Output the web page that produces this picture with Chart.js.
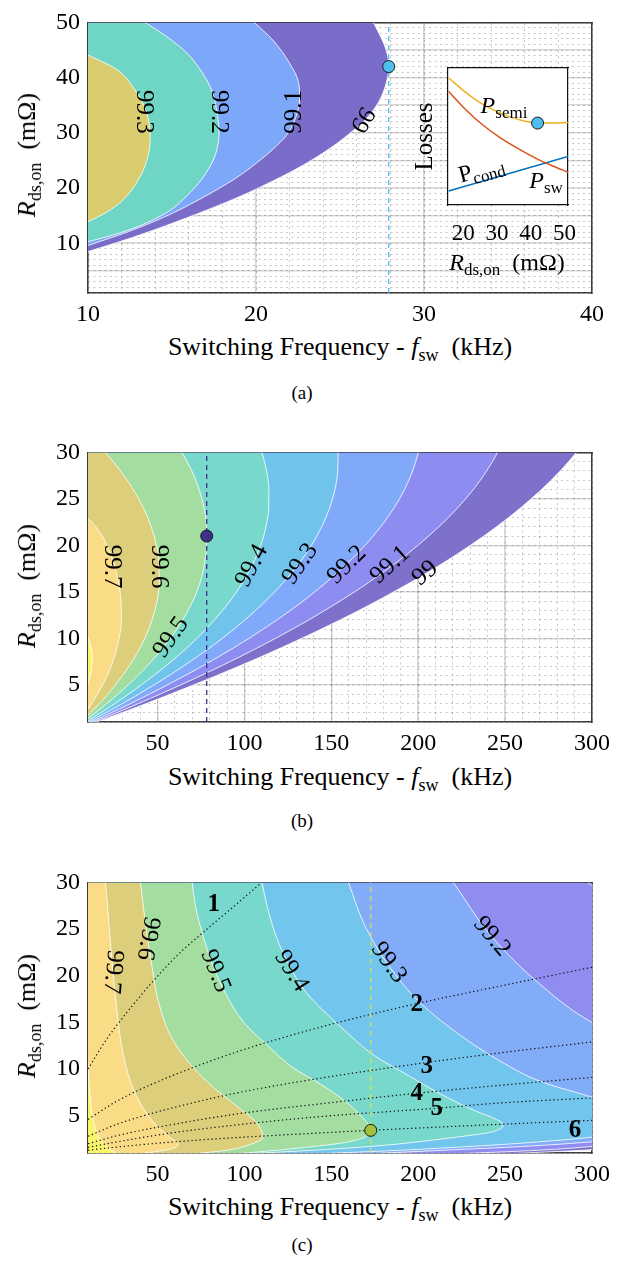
<!DOCTYPE html>
<html>
<head>
<meta charset="utf-8">
<script src="https://cdn.jsdelivr.net/npm/chart.js@4.4.1/dist/chart.umd.min.js"></script>
<style>
html,body{margin:0;padding:0;background:#fff}
body{position:relative;width:622px;height:1263px;overflow:hidden;font-family:"Liberation Serif","Times New Roman",serif;color:#000}
canvas{position:absolute;left:0}
.t{position:absolute;white-space:nowrap;font-size:26px;line-height:1;transform:translate(-50%,-50%);z-index:5}
.r{transform:translate(-50%,-50%) rotate(-90deg)}
.t sub{font-size:18px;line-height:0;position:relative;top:6px;vertical-align:baseline}
.s{font-size:24px}
.s sub{font-size:17px;top:5px}
.cap{font-size:19px}
</style>
</head>
<body>
<canvas id="ca" width="622" height="330" style="top:0px"></canvas>
<canvas id="ins" width="195" height="190" style="left:400px;top:55px"></canvas>
<canvas id="cb" width="622" height="330" style="top:430px"></canvas>
<canvas id="cc" width="622" height="330" style="top:860px"></canvas>

<div class="t r" style="left:27px;top:155px"><i>R</i><sub>ds,on</sub>&nbsp;&nbsp;(mΩ)</div>
<div class="t" style="left:340px;top:347px">Switching Frequency - <i>f</i><sub>sw</sub>&nbsp;&nbsp;(kHz)</div>
<div class="t cap" style="left:302px;top:392px">(a)</div>

<div class="t s" style="left:504px;top:105px"><i>P</i><sub>semi</sub></div>
<div class="t s" style="left:481px;top:169px;transform:translate(-50%,-50%) rotate(-15deg)">P<sub>cond</sub></div>
<div class="t s" style="left:546px;top:180px"><i>P</i><sub>sw</sub></div>
<div class="t s" style="left:507px;top:262px"><i>R</i><sub>ds,on</sub>&nbsp;&nbsp;(mΩ)</div>

<div class="t r" style="left:27px;top:586px"><i>R</i><sub>ds,on</sub>&nbsp;&nbsp;(mΩ)</div>
<div class="t" style="left:340px;top:777px">Switching Frequency - <i>f</i><sub>sw</sub>&nbsp;&nbsp;(kHz)</div>
<div class="t cap" style="left:302px;top:820px">(b)</div>

<div class="t r" style="left:27px;top:1016px"><i>R</i><sub>ds,on</sub>&nbsp;&nbsp;(mΩ)</div>
<div class="t" style="left:340px;top:1207px">Switching Frequency - <i>f</i><sub>sw</sub>&nbsp;&nbsp;(kHz)</div>
<div class="t cap" style="left:302px;top:1244px">(c)</div>

<script>
const FONT = '"Liberation Serif","Times New Roman",serif';
Chart.defaults.font.family = FONT;
Chart.defaults.color = '#000';

// ---------------- Panel (a) data ----------------
const aXTicks = [10, 20, 30, 40];
const aYGrid = [5, 10, 15, 20, 25, 30, 35, 40, 45, 50];
const aYLabels = [10, 20, 30, 40, 50];
const aR993 = [13.9, 15.6, 17.9, 21.5, 25.0, 28.5, 31.5, 34.4, 38.2, 41.5, 44.1];
const aF993 = [10.0, 11.1, 12.1, 13.0, 13.5, 13.7, 13.65, 13.4, 12.7, 11.7, 10.0];
const aR992 = [10.3, 11.5, 13.2, 15.6, 19.1, 22.6, 26.2, 30.3, 33.2, 37.4, 40.9, 44.4, 47.4, 50.0];
const aF992 = [10.0, 11.5, 13.1, 14.7, 16.05, 17.0, 17.6, 17.8, 17.7, 17.4, 16.8, 15.9, 14.7, 13.4];
const aR991 = [9.6, 12.1, 14.7, 17.9, 21.8, 24.7, 27.0, 29.5, 32.6, 36.2, 39.5, 42.6, 46.8, 50.0];
const aF991 = [10.0, 12.4, 14.5, 16.6, 18.8, 20.1, 21.0, 21.8, 22.35, 22.6, 22.5, 22.0, 21.0, 19.9];
const aR990 = [8.5, 10.9, 14.4, 17.4, 19.8, 23.8, 27.4, 29.7, 32.7, 35.6, 39.0, 42.0, 45.0, 50.0];
const aF990 = [10.0, 12.5, 15.7, 18.2, 20.0, 22.6, 24.5, 25.5, 26.6, 27.3, 27.75, 27.9, 27.75, 27.0];
const aOptF = 27.9, aOptR = 42;

// inset
const insTicks = [20, 30, 40, 50];
const insR = [15.7, 21, 26, 31, 36, 42, 46.5, 51];
const insSemi = [0.927, 0.817, 0.732, 0.671, 0.627, 0.598, 0.598, 0.602];
const insSw = [0.829, 0.69, 0.58, 0.49, 0.415, 0.335, 0.285, 0.239];
const insCondR = [15.7, 51];
const insCond = [0.102, 0.354];
const insOptR = 42, insOptP = 0.598;

// ---------------- Panel (b) data ----------------
const bcXTicks = [50, 100, 150, 200, 250, 300];
const bcYTicks = [5, 10, 15, 20, 25, 30];
const bR = [1, 2, 3, 4, 6, 8, 10, 12, 14, 16, 18, 20, 22, 24, 26, 28, 30];
const bR998 = [4.5, 5.2, 6, 7, 8, 9, 10.1, 11];
const bF998 = [9.0, 10.0, 11.3, 12.2, 12.5, 11.8, 10.0, 8.5];
const bR997 = [1, 2, 3, 4, 6, 8, 10, 12, 14, 16, 18, 20, 22, 23];
const bF997 = [4.4, 8.5, 12.2, 15.5, 21.1, 25.2, 27.9, 29.2, 29.0, 27.6, 25.0, 21.0, 14.5, 9.5];
const bF996 = [5.9, 11.4, 16.6, 21.4, 29.9, 37.0, 42.7, 46.9, 49.7, 51.0, 50.9, 49.4, 46.4, 42.0, 36.1, 28.8, 20.1];
const bF995 = [7.4, 14.4, 21.0, 27.3, 38.8, 48.8, 57.4, 64.6, 70.3, 74.5, 77.0, 78.2, 78.2, 76.8, 74.0, 69.8, 64.1];
const bF994 = [8.9, 17.4, 25.6, 33.4, 47.9, 61.0, 72.7, 82.9, 91.7, 99.0, 104.9, 109.4, 112.4, 114.0, 114.1, 112.8, 110.1];
const bF993 = [10.4, 20.3, 30.0, 39.2, 56.7, 72.7, 87.3, 100.4, 112.1, 122.4, 131.2, 138.6, 144.5, 149.0, 152.1, 153.7, 153.9];
const bF992 = [11.9, 23.4, 34.6, 45.4, 65.9, 85.0, 102.7, 118.9, 133.7, 147.0, 158.9, 169.4, 178.4, 186.0, 192.1, 196.8, 200.1];
const bF991 = [13.4, 26.5, 39.2, 51.5, 75.1, 97.2, 117.9, 137.2, 155.0, 171.4, 186.3, 199.8, 211.9, 222.5, 231.7, 239.4, 245.7];
const bF990 = [14.9, 29.5, 43.7, 57.5, 84.1, 109.3, 133.0, 155.3, 176.1, 195.5, 213.5, 230.0, 245.1, 258.7, 270.9, 281.7, 291.0];
const bOptF = 78.3, bOptR = 21;

// ---------------- Panel (c) data ----------------
const cR998 = [0.9, 1.5, 2.2, 3.2, 4.5, 6.0, 8.0, 10.3, 11.0];
const cF998 = [27, 22, 18, 15, 13, 11.8, 10.8, 10.0, 9.6];
const cR997 = [0.9, 1.4, 1.9, 2.5, 3.9, 6.0, 8.7, 12.2, 16.0, 20.5, 25.7, 30.0];
const cF997 = [40, 57, 62, 58.4, 49.7, 41.1, 34.4, 29.6, 26.8, 24.3, 22.0, 20.1];
const cR996 = [0.9, 1.3, 1.8, 2.7, 4.2, 6.0, 8.0, 10.5, 13.6, 17.1, 20.9, 25.7, 30.0];
const cF996 = [70, 90, 101.5, 110.7, 107.2, 95.7, 82.3, 68.9, 57.4, 50.7, 46.9, 43.0, 40.2];
const cR995 = [0.9, 1.5, 2.2, 3.43, 4.8, 6.7, 8.4, 10.1, 12.6, 15.0, 17.8, 20.9, 24.0, 27.5, 30.0];
const cF995 = [95, 130, 160, 172.7, 168, 157, 143.6, 128.3, 112.9, 99.6, 90.0, 82.3, 76.6, 71.8, 69.9];
const cR994 = [0.9, 1.3, 1.6, 1.9, 2.2, 2.7, 3.2, 4.05, 4.6, 5.6, 7.35, 9.4, 11.5, 14.0, 15.7, 18.1, 20.9, 24.0, 27.5, 30.0];
const cF994 = [100, 140, 165, 185, 200, 222, 241, 249, 245, 231.7, 212.6, 193.4, 174.3, 158.5, 148.5, 136, 126.4, 118.7, 113, 110.1];
const cR993 = [0.9, 1.3, 1.7, 2.2, 2.7, 3.5, 5.0, 7.0, 8.7, 10.6, 13.9, 17.4, 21.9, 25.7, 30.0];
const cF993 = [140, 190, 230, 270, 300, 330, 335, 299.7, 270, 249.5, 222.1, 199.5, 180, 168.5, 159.9];
const cR992 = [0.9, 1.3, 1.7, 2.2, 3.0, 5.0, 10.0, 15.0, 19.1, 24.2, 30.0];
const cF992 = [170, 215, 260, 300, 340, 380, 360, 300, 270, 242.3, 220.2];
const cR991 = [0.9, 1.3, 1.7, 2.5, 5.0, 15.0, 25.0, 30.0];
const cF991 = [220, 270, 300, 350, 420, 400, 330, 297.8];
const cR990 = [0.9, 1.35, 2.0, 5.0, 30.0];
const cF990 = [250, 300, 350, 450, 420];
const cN1F = [10, 20, 28.7, 40, 49.8, 62, 78.5, 95, 110];
const cN1R = [10.0, 13.0, 15.2, 17.8, 19.9, 22.3, 25.0, 27.6, 30.0];
const cN2F = [10, 30, 60, 100, 150, 199, 250, 300];
const cN2R = [4.6, 6.9, 9.4, 12.1, 14.8, 17.0, 19.0, 20.9];
const cN3F = [10, 30, 60, 100, 150, 205, 250, 300];
const cN3R = [2.8, 4.3, 5.9, 7.6, 9.2, 10.7, 11.8, 12.9];
const cN4F = [10, 30, 60, 100, 150, 199, 250, 300];
const cN4R = [2.0, 3.0, 4.1, 5.3, 6.4, 7.4, 8.3, 9.1];
const cN5F = [10, 30, 60, 100, 150, 211, 250, 300];
const cN5R = [1.6, 2.3, 3.2, 4.1, 5.0, 5.8, 6.4, 6.9];
const cN6F = [10, 30, 60, 100, 172.7, 250, 300];
const cN6R = [1.3, 1.7, 2.2, 2.7, 3.43, 4.1, 4.5];
const cOptF = 172.7, cOptR = 3.43;

// ---------------- helpers ----------------
const pts = (fs, rs) => rs.map((r, i) => ({x: fs[i], y: r}));
const rng = (a, b, s) => { const o = []; for (let v = a; v <= b + 1e-9; v += s) o.push(+v.toFixed(6)); return o; };

function contour(fs, rs, color, xmin) {
  return {data: pts(fs, rs), fill: {value: xmin}, backgroundColor: color, borderColor: 'rgba(255,255,255,0.92)',
    borderWidth: 0.9, pointRadius: 0, cubicInterpolationMode: 'monotone', clip: 0, xAxisID: 'x', yAxisID: 'y'};
}
function vline(f, r0, r1, color) {
  return {data: [{x: f, y: r0}, {x: f, y: r1}], borderColor: color, borderWidth: 1.3, borderDash: [5, 4],
    pointRadius: 0, fill: false, clip: 0, xAxisID: 'x', yAxisID: 'y'};
}
function dotted(fs, rs) {
  return {data: pts(fs, rs), borderColor: '#111', borderWidth: 1.2, borderDash: [1.3, 2.7], pointRadius: 0,
    fill: false, cubicInterpolationMode: 'monotone', clip: 0, xAxisID: 'x', yAxisID: 'y'};
}
function dot(f, r, color) {
  return {data: [{x: f, y: r}], showLine: false, pointRadius: 6, pointBackgroundColor: color,
    pointBorderColor: '#1b1b1b', pointBorderWidth: 1, fill: false, clip: false, xAxisID: 'x', yAxisID: 'y'};
}

const labelPlugin = {
  id: 'clabels',
  afterDraw(chart, args, opts) {
    const ctx = chart.ctx, xs = chart.scales.x, ys = chart.scales.y;
    (opts.items || []).forEach(it => {
      ctx.save();
      ctx.translate(xs.getPixelForValue(it.f), ys.getPixelForValue(it.r));
      ctx.rotate((it.rot || 0) * Math.PI / 180);
      ctx.font = (it.bold ? 'bold ' : '') + '25px ' + FONT;
      ctx.fillStyle = '#000';
      ctx.textAlign = 'center';
      ctx.textBaseline = 'middle';
      ctx.fillText(it.text, 0, 0);
      ctx.restore();
    });
  }
};

function scalesFor(c) {
  const tickFont = {family: FONT, size: 24};
  const major = {color: 'rgba(0,0,0,0.16)', lineWidth: 1.6, drawTicks: false};
  const minor = {color: 'rgba(0,0,0,0.22)', lineWidth: 1, drawTicks: false};
  const brd = {display: true, color: '#3c3c3c', width: 1.5};
  return {
    x: {type: 'linear', position: 'bottom', min: c.xMin, max: c.xMax, z: 1,
      afterBuildTicks: s => { s.ticks = c.xGrid.map(v => ({value: v})); },
      afterFit: s => { s.height = c.xH; },
      ticks: {font: tickFont, color: '#000', padding: 7, autoSkip: false, maxRotation: 0,
        callback: v => c.xLabels.includes(v) ? String(v) : ''},
      grid: major, border: brd},
    x2: {type: 'linear', position: 'top', min: c.xMin, max: c.xMax, z: 1,
      afterBuildTicks: s => { s.ticks = c.xMinor.map(v => ({value: v})); },
      afterFit: s => { s.height = 0; },
      ticks: {display: false}, grid: minor, border: Object.assign({}, brd, {dash: [2, 3.5]})},
    y: {type: 'linear', position: 'left', min: c.yMin, max: c.yMax, z: 1,
      afterBuildTicks: s => { s.ticks = c.yGrid.map(v => ({value: v})); },
      afterFit: s => { s.width = 88; },
      ticks: {font: tickFont, color: '#000', padding: 8, autoSkip: false,
        callback: v => c.yLabels.includes(v) ? String(v) : ''},
      grid: major, border: brd},
    y2: {type: 'linear', position: 'right', min: c.yMin, max: c.yMax, z: 1,
      afterBuildTicks: s => { s.ticks = c.yMinor.map(v => ({value: v})); },
      afterFit: s => { s.width = 0; },
      ticks: {display: false}, grid: minor, border: Object.assign({}, brd, {dash: [2, 3.5]})}
  };
}

function makeChart(id, datasets, sc, labels, padTop) {
  return new Chart(document.getElementById(id), {
    type: 'line',
    data: {datasets},
    options: {
      indexAxis: 'y', responsive: false, animation: false,
      layout: {padding: {top: padTop, right: 30, left: 0, bottom: 0}},
      scales: scalesFor(sc),
      plugins: {legend: {display: false}, tooltip: {enabled: false}, clabels: {items: labels}}
    },
    plugins: [labelPlugin]
  });
}

// ---------------- Chart (a) ----------------
makeChart('ca', [
  dot(aOptF, aOptR, '#4DBEEE'),
  vline(aOptF, 1, 50, '#4DBEEE'),
  contour(aF993, aR993, '#DACD70', 10),
  contour(aF992, aR992, '#6FD6C6', 10),
  contour(aF991, aR991, '#7DA8FA', 10),
  contour(aF990, aR990, '#7A6CC9', 10)
], {xMin: 10, xMax: 40, yMin: 1, yMax: 50, xH: 37, xGrid: aXTicks, xLabels: aXTicks, xMinor: rng(10, 40, 2),
    yGrid: aYGrid, yLabels: aYLabels, yMinor: rng(1, 50, 1)},
  [{text: '99.3', f: 13.3, r: 33.8, rot: 90}, {text: '99.2', f: 17.8, r: 33.8, rot: 90},
   {text: '99.1', f: 22.3, r: 33.8, rot: -90}, {text: '99', f: 26.3, r: 32.4, rot: 120}], 15);

// ---------------- inset ----------------
const whiteBg = {id: 'whiteBg', beforeDraw(chart) {
  const a = chart.chartArea, ctx = chart.ctx; ctx.save(); ctx.fillStyle = '#fff';
  ctx.fillRect(a.left, a.top, a.right - a.left, a.bottom - a.top); ctx.restore(); }};
const insBrd = {display: true, color: '#111', width: 1.2};
new Chart(document.getElementById('ins'), {
  type: 'line',
  data: {datasets: [
    {data: [{x: insOptR, y: insOptP}], showLine: false, pointRadius: 6,
      pointBackgroundColor: '#4DBEEE', pointBorderColor: '#1b1b1b', pointBorderWidth: 1, clip: false},
    {data: insR.map((r, i) => ({x: r, y: insSemi[i]})), borderColor: '#EDB120', borderWidth: 1.5, pointRadius: 0, cubicInterpolationMode: 'monotone'},
    {data: insR.map((r, i) => ({x: r, y: insSw[i]})), borderColor: '#D95319', borderWidth: 1.5, pointRadius: 0, cubicInterpolationMode: 'monotone'},
    {data: insCondR.map((r, i) => ({x: r, y: insCond[i]})), borderColor: '#0072BD', borderWidth: 1.5, pointRadius: 0}
  ]},
  options: {
    responsive: false, animation: false,
    layout: {padding: {top: 13, right: 27, left: 0, bottom: 0}},
    scales: {
      x: {type: 'linear', min: 15.5, max: 51, afterBuildTicks: s => { s.ticks = insTicks.map(v => ({value: v})); },
        afterFit: s => { s.height = 40; }, ticks: {font: {family: FONT, size: 23}, padding: 7, color: '#000', autoSkip: false, maxRotation: 0},
        grid: {display: false}, border: insBrd},
      x2: {type: 'linear', position: 'top', min: 15.5, max: 51, afterFit: s => { s.height = 0; }, ticks: {display: false},
        grid: {display: false}, border: insBrd},
      y: {type: 'linear', min: 0, max: 1, afterFit: s => { s.width = 48; }, ticks: {display: false}, grid: {display: false},
        border: insBrd, title: {display: true, text: 'Losses', font: {family: FONT, size: 25}, color: '#000', padding: {top: 10, bottom: 0}}},
      y2: {type: 'linear', position: 'right', min: 0, max: 1, afterFit: s => { s.width = 0; }, ticks: {display: false},
        grid: {display: false}, border: insBrd}
    },
    plugins: {legend: {display: false}, tooltip: {enabled: false}}
  },
  plugins: [whiteBg]
});

// ---------------- Chart (b) ----------------
const bcMinorX = rng(10, 300, 10), bcMinorY = rng(1, 30, 1);
makeChart('cb', [
  dot(bOptF, bOptR, '#3E2F8A'),
  vline(bOptF, 1, 30, '#3E2F8A'),
  contour(bF998, bR998, '#F8F46C', 10),
  contour(bF997, bR997, '#FBDC86', 10),
  contour(bF996, bR, '#DCCE7B', 10),
  contour(bF995, bR, '#A3DD9F', 10),
  contour(bF994, bR, '#78D8CB', 10),
  contour(bF993, bR, '#70C4EC', 10),
  contour(bF992, bR, '#80AAF9', 10),
  contour(bF991, bR, '#8D8CF0', 10),
  contour(bF990, bR, '#7E71CB', 10)
], {xMin: 10, xMax: 300, yMin: 1, yMax: 30, xH: 38, xGrid: bcXTicks, xLabels: bcXTicks, xMinor: bcMinorX,
    yGrid: bcYTicks, yLabels: bcYTicks, yMinor: bcMinorY},
  [{text: '99.7', f: 23.5, r: 17.7, rot: 90}, {text: '99.6', f: 50.5, r: 17.7, rot: 90},
   {text: '99.5', f: 57.8, r: 10.1, rot: -55}, {text: '99.4', f: 104.3, r: 17.8, rot: -62},
   {text: '99.3', f: 132.1, r: 18.0, rot: -55}, {text: '99.2', f: 159, r: 17.9, rot: -45},
   {text: '99.1', f: 183.9, r: 17.9, rot: -42}, {text: '99', f: 204, r: 17.0, rot: -40}], 14);

// ---------------- Chart (c) ----------------
makeChart('cc', [
  dot(cOptF, cOptR, '#A2C03A'),
  vline(cOptF, 1, 30, '#D2E25A'),
  dotted(cN1F, cN1R), dotted(cN2F, cN2R), dotted(cN3F, cN3R),
  dotted(cN4F, cN4R), dotted(cN5F, cN5R), dotted(cN6F, cN6R),
  contour(cF998, cR998, '#F8F46C', 10),
  contour(cF997, cR997, '#FBDC86', 10),
  contour(cF996, cR996, '#DCCE7B', 10),
  contour(cF995, cR995, '#A3DD9F', 10),
  contour(cF994, cR994, '#78D8CB', 10),
  contour(cF993, cR993, '#72C5EC', 10),
  contour(cF992, cR992, '#82ABF8', 10),
  contour(cF991, cR991, '#8F8EF0', 10),
  contour(cF990, cR990, '#7F72CC', 10)
], {xMin: 10, xMax: 300, yMin: 1, yMax: 30, xH: 37, xGrid: bcXTicks, xLabels: bcXTicks, xMinor: bcMinorX,
    yGrid: bcYTicks, yLabels: bcYTicks, yMinor: bcMinorY},
  [{text: '99.7', f: 24.3, r: 20.4, rot: 95}, {text: '99.6', f: 44.5, r: 24.0, rot: 100},
   {text: '99.5', f: 83.3, r: 20.5, rot: 68}, {text: '99.4', f: 127, r: 20.5, rot: 58},
   {text: '99.3', f: 183, r: 21.4, rot: 55}, {text: '99.2', f: 242.3, r: 24.2, rot: 50},
   {text: '1', f: 82.3, r: 27.6, bold: true}, {text: '2', f: 199.2, r: 16.9, bold: true},
   {text: '3', f: 204.9, r: 10.3, bold: true}, {text: '4', f: 199.2, r: 7.35, bold: true},
   {text: '5', f: 210.7, r: 5.8, bold: true}, {text: '6', f: 290.2, r: 3.36, bold: true}], 14);
</script>
</body>
</html>
